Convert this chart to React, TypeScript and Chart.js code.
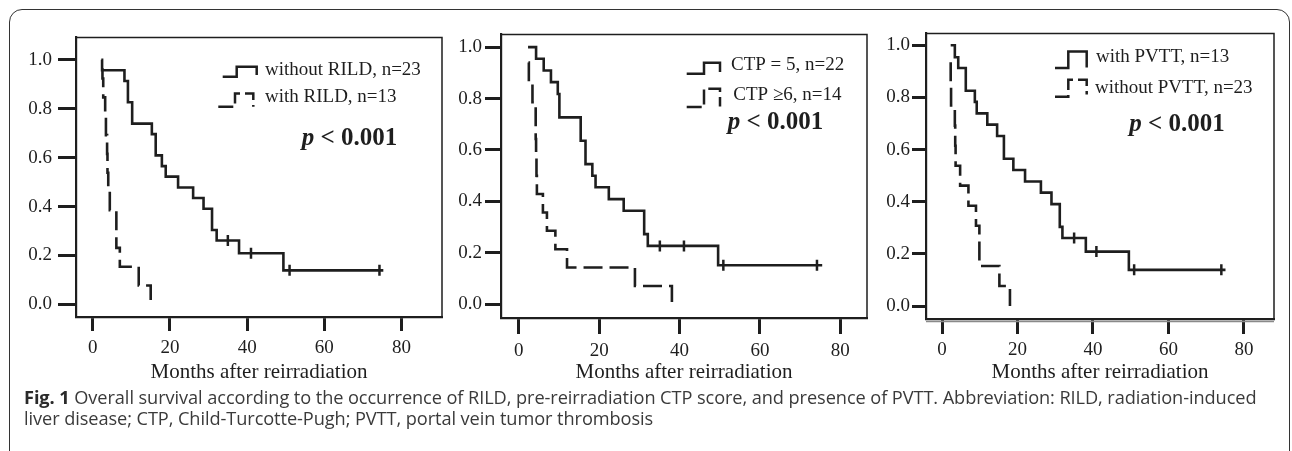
import React, { useEffect, useRef } from 'react';
import { Chart, registerables } from 'chart.js';

Chart.register(...registerables);

// ---------- shared axis data ----------
const xTickValues = [0, 20, 40, 60, 80];
const xTickLabels = ['0', '20', '40', '60', '80'];
const yTickValues = [0, 0.2, 0.4, 0.6, 0.8, 1.0];
const yTickLabels = ['0.0', '0.2', '0.4', '0.6', '0.8', '1.0'];
const xAxisTitle = 'Months after reirradiation';
const pValueItalic = 'p';
const pValueRest = ' < 0.001';

// ---------- panel 1: RILD ----------
const rildNoTimes = [2.2, 2.4, 8.2, 9.1, 10.2, 15.3, 16.3, 17.9, 18.9, 22.1, 26.0, 28.7, 30.9, 32.1, 37.9, 49.4, 75.3];
const rildNoSurv = [1.0, 0.957, 0.913, 0.826, 0.739, 0.696, 0.609, 0.565, 0.522, 0.478, 0.435, 0.391, 0.304, 0.261, 0.209, 0.139, 0.139];
const rildNoCensorTimes = [35.0, 41.0, 51.0, 74.3];
const rildNoCensorSurv = [0.261, 0.209, 0.139, 0.139];
const rildYesTimes = [2.4, 2.5, 2.7, 3.2, 3.4, 3.7, 3.8, 4.0, 4.4, 6.1, 7.0, 11.9, 15.0];
const rildYesSurv = [0.96, 0.923, 0.846, 0.769, 0.692, 0.615, 0.538, 0.462, 0.385, 0.231, 0.154, 0.077, 0.0];
const rildLabels = ['without RILD, n=23', 'with RILD, n=13'];

// ---------- panel 2: CTP ----------
const ctp5Times = [2.3, 4.3, 6.2, 8.0, 9.7, 10.1, 15.4, 16.6, 18.3, 19.1, 22.4, 26.1, 31.2, 32.1, 49.6, 75.5];
const ctp5Surv = [1.0, 0.955, 0.909, 0.864, 0.818, 0.727, 0.636, 0.545, 0.5, 0.455, 0.409, 0.364, 0.273, 0.227, 0.152, 0.152];
const ctp5CensorTimes = [35.1, 41.1, 50.9, 74.2];
const ctp5CensorSurv = [0.227, 0.227, 0.152, 0.152];
const ctp6Times = [2.4, 2.5, 3.4, 4.2, 4.2, 4.3, 4.4, 4.5, 6.0, 7.0, 9.1, 12.0, 28.9, 38.1];
const ctp6Surv = [0.94, 0.857, 0.786, 0.714, 0.643, 0.571, 0.5, 0.429, 0.357, 0.286, 0.214, 0.143, 0.071, 0.0];
const ctpLabels = ['CTP = 5, n=22', 'CTP \u22656, n=14'];

// ---------- panel 3: PVTT ----------
const pvttWithTimes = [2.3, 3.4, 4.3, 6.3, 8.7, 9.2, 12.0, 14.6, 16.4, 18.9, 22.0, 26.2, 29.0, 31.2, 31.9, 38.1, 49.5, 75.1];
const pvttWithSurv = [1.0, 0.954, 0.913, 0.826, 0.783, 0.739, 0.696, 0.652, 0.565, 0.522, 0.478, 0.435, 0.391, 0.304, 0.261, 0.209, 0.139, 0.139];
const pvttWithCensorTimes = [35.0, 40.9, 50.9, 74.0];
const pvttWithCensorSurv = [0.261, 0.209, 0.139, 0.139];
const pvttWithoutTimes = [2.3, 2.3, 2.4, 3.4, 3.5, 3.6, 4.8, 7.0, 9.0, 9.9, 15.2, 18.0];
const pvttWithoutSurv = [0.935, 0.846, 0.769, 0.692, 0.615, 0.538, 0.462, 0.385, 0.308, 0.154, 0.077, 0.0];
const pvttLabels = ['with PVTT, n=13', 'without PVTT, n=23'];

// ---------- caption ----------
const captionBold = 'Fig. 1';
const captionLine1 = ' Overall survival according to the occurrence of RILD, pre-reirradiation CTP score, and presence of PVTT. Abbreviation: RILD, radiation-induced';
const captionLine2 = 'liver disease; CTP, Child-Turcotte-Pugh; PVTT, portal vein tumor thrombosis';

const INK = '#1e1e1e';
const SERIF = '"Liberation Serif", "Times New Roman", serif';
const DASH = [19, 7];

const toPoints = (xs: number[], ys: number[]) => xs.map((x, i) => ({ x, y: ys[i] }));

const kmDecor = {
  id: 'kmDecor',
  afterDraw(chart: any, _args: any, opts: any) {
    const { ctx, chartArea: a } = chart;
    ctx.save();
    ctx.strokeStyle = INK;
    ctx.lineWidth = 1.5;
    ctx.beginPath();
    ctx.moveTo(a.left, a.top);
    ctx.lineTo(a.right, a.top);
    ctx.lineTo(a.right, a.bottom + 1);
    ctx.stroke();
    if (opts.doubleBottom) {
      ctx.strokeStyle = '#8a8a8a';
      ctx.lineWidth = 1.5;
      ctx.beginPath();
      ctx.moveTo(a.left, a.bottom + 2.5);
      ctx.lineTo(a.right, a.bottom + 2.5);
      ctx.stroke();
    }
    (opts.items || []).forEach((it: any) => {
      const g = it.glyph;
      ctx.strokeStyle = INK;
      ctx.lineWidth = 2.5;
      ctx.setLineDash(it.dashed ? [15, 5] : []);
      ctx.beginPath();
      ctx.moveTo(a.left + g[0], a.top + g[3]);
      ctx.lineTo(a.left + g[1], a.top + g[3]);
      ctx.lineTo(a.left + g[1], a.top + g[4]);
      ctx.lineTo(a.left + g[2], a.top + g[4]);
      ctx.lineTo(a.left + g[2], a.top + g[5]);
      ctx.stroke();
      ctx.setLineDash([]);
      ctx.fillStyle = INK;
      ctx.font = `19px ${SERIF}`;
      ctx.textAlign = 'left';
      ctx.textBaseline = 'alphabetic';
      ctx.fillText(it.label, a.left + it.tx, a.top + it.ty);
    });
    if (opts.p) {
      ctx.fillStyle = INK;
      ctx.textAlign = 'left';
      ctx.textBaseline = 'alphabetic';
      ctx.font = `italic bold 25px ${SERIF}`;
      const px = a.left + opts.p[0];
      const py = a.top + opts.p[1];
      ctx.fillText(pValueItalic, px, py);
      const w = ctx.measureText(pValueItalic).width;
      ctx.font = `bold 25px ${SERIF}`;
      ctx.fillText(pValueRest, px + w, py);
    }
    ctx.restore();
  },
};

type PanelProps = {
  left: number; top: number; width: number; height: number;
  padTop: number; padRight: number; yW: number; xH: number;
  xMin: number; xMax: number; yMin: number; yMax: number;
  yTickLen: number; yTickPad: number; xTickLen: number; xTickPad: number;
  solid: { x: number[]; y: number[] }; censor: { x: number[]; y: number[] }; dashed: { x: number[]; y: number[] };
  decor: any;
};

function KMPanel(p: PanelProps) {
  const ref = useRef<HTMLCanvasElement>(null);
  useEffect(() => {
    if (!ref.current) return;
    const chart = new Chart(ref.current, {
      type: 'line',
      data: {
        datasets: [
          {
            data: toPoints(p.solid.x, p.solid.y),
            stepped: true,
            borderColor: INK,
            borderWidth: 2.6,
            pointRadius: 0,
            fill: false,
          } as any,
          {
            data: toPoints(p.dashed.x, p.dashed.y),
            stepped: true,
            borderColor: INK,
            borderWidth: 2.6,
            borderDash: DASH,
            pointRadius: 0,
            fill: false,
          } as any,
          {
            data: toPoints(p.censor.x, p.censor.y),
            showLine: false,
            pointStyle: 'line',
            rotation: 90,
            pointRadius: 5.5,
            pointBorderWidth: 2.5,
            pointBorderColor: INK,
            pointBackgroundColor: INK,
          } as any,
        ],
      },
      options: {
        animation: false,
        responsive: false,
        maintainAspectRatio: false,
        events: [],
        layout: { padding: { top: p.padTop, right: p.padRight, bottom: 0, left: 0 } },
        plugins: {
          legend: { display: false },
          tooltip: { enabled: false },
          kmDecor: p.decor,
        } as any,
        scales: {
          x: {
            type: 'linear',
            min: p.xMin,
            max: p.xMax,
            afterBuildTicks: (s: any) => { s.ticks = xTickValues.map((v) => ({ value: v })); },
            afterFit: (s: any) => { s.height = p.xH; },
            ticks: {
              autoSkip: false,
              maxRotation: 0,
              padding: p.xTickPad,
              color: INK,
              font: { family: SERIF, size: 19 },
              callback: (_v: any, i: number) => xTickLabels[i],
            },
            grid: { drawOnChartArea: false, drawTicks: true, tickLength: p.xTickLen, tickWidth: 3, tickColor: INK },
            border: { display: true, color: INK, width: 2.2 },
            title: {
              display: true,
              text: xAxisTitle,
              color: INK,
              font: { family: SERIF, size: 21 },
              padding: { top: 0, bottom: 5 },
            },
          },
          y: {
            type: 'linear',
            min: p.yMin,
            max: p.yMax,
            afterBuildTicks: (s: any) => { s.ticks = yTickValues.map((v) => ({ value: v })); },
            afterFit: (s: any) => { s.width = p.yW; },
            ticks: {
              autoSkip: false,
              padding: p.yTickPad,
              color: INK,
              font: { family: SERIF, size: 19 },
              callback: (_v: any, i: number) => yTickLabels[i],
            },
            grid: { drawOnChartArea: false, drawTicks: true, tickLength: p.yTickLen, tickWidth: 3, tickColor: INK },
            border: { display: true, color: INK, width: 2.2 },
          },
        } as any,
      },
      plugins: [kmDecor as any],
    });
    return () => chart.destroy();
  }, []);
  return (
    <canvas
      ref={ref}
      width={p.width}
      height={p.height}
      style={{ position: 'absolute', left: p.left, top: p.top, width: p.width, height: p.height }}
    />
  );
}

export default function App() {
  return (
    <div style={{ position: 'absolute', left: 0, top: 0, width: 1292, height: 451, overflow: 'hidden', background: '#fff' }}>
      <div
        style={{
          position: 'absolute', left: 9, top: 9, width: 1281, height: 480,
          border: '1.6px solid #333', borderRadius: '13px 13px 0 0', boxSizing: 'border-box',
        }}
      />
      <KMPanel
        left={15} top={20} width={435} height={370}
        padTop={9} padRight={4} yW={61} xH={73}
        xMin={-4.36} xMax={90.51} yMin={-0.0516} yMax={1.0913}
        yTickLen={18} yTickPad={6} xTickLen={14} xTickPad={5.6}
        solid={{ x: rildNoTimes, y: rildNoSurv }}
        censor={{ x: rildNoCensorTimes, y: rildNoCensorSurv }}
        dashed={{ x: rildYesTimes, y: rildYesSurv }}
        decor={{
          items: [
            { label: rildLabels[0], dashed: false, glyph: [146.7, 160.7, 180.7, 39.3, 29.3, 37.7], tx: 189, ty: 37.7 },
            { label: rildLabels[1], dashed: true, glyph: [142.3, 159, 177.3, 69.3, 56, 69.3], tx: 189, ty: 64.3 },
          ],
          p: [225.7, 107.7],
        }}
      />
      <KMPanel
        left={450} top={20} width={425} height={370}
        padTop={9} padRight={4} yW={51} xH={72}
        xMin={-4.43} xMax={86.65} yMin={-0.0534} yMax={1.0496}
        yTickLen={16} yTickPad={3} xTickLen={16} xTickPad={5.6}
        solid={{ x: ctp5Times, y: ctp5Surv }}
        censor={{ x: ctp5CensorTimes, y: ctp5CensorSurv }}
        dashed={{ x: ctp6Times, y: ctp6Surv }}
        decor={{
          items: [
            { label: ctpLabels[0], dashed: false, glyph: [185.7, 203, 219, 39.3, 28.3, 37.7], tx: 230, ty: 36 },
            { label: ctpLabels[1], dashed: true, glyph: [185.7, 203, 219, 72.7, 54.3, 72], tx: 232.3, ty: 66 },
          ],
          p: [226.7, 95],
        }}
      />
      <KMPanel
        left={875} top={20} width={410} height={370}
        padTop={11} padRight={11} yW={51} xH={71}
        xMin={-4.24} xMax={87.95} yMin={-0.0494} yMax={1.0456}
        yTickLen={14} yTickPad={2} xTickLen={15} xTickPad={4.6}
        solid={{ x: pvttWithTimes, y: pvttWithSurv }}
        censor={{ x: pvttWithCensorTimes, y: pvttWithCensorSurv }}
        dashed={{ x: pvttWithoutTimes, y: pvttWithoutSurv }}
        decor={{
          doubleBottom: true,
          items: [
            { label: pvttLabels[0], dashed: false, glyph: [129, 142.3, 160.7, 34.7, 18, 34], tx: 170, ty: 29 },
            { label: pvttLabels[1], dashed: true, glyph: [129, 142.3, 160.7, 63.3, 46.3, 61], tx: 169, ty: 59.7 },
          ],
          p: [203.3, 97.3],
        }}
      />
      <div
        style={{
          position: 'absolute', left: 24, top: 387, whiteSpace: 'nowrap',
          fontFamily: '"Open Sans", "Noto Sans", sans-serif', fontSize: 18.2, lineHeight: '21px', color: '#3a3a3a',
          letterSpacing: '-0.08px',
        }}
      >
        <b style={{ color: '#2a2a2a' }}>{captionBold}</b>{captionLine1}
        <br />
        {captionLine2}
      </div>
    </div>
  );
}
